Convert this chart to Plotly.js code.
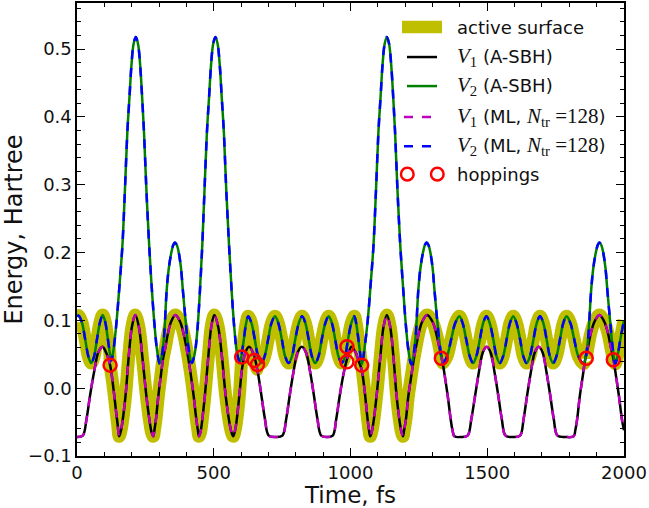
<!DOCTYPE html>
<html>
<head>
<meta charset="utf-8">
<script src="https://cdn.plot.ly/plotly-3.0.1.min.js"></script>
<style>html,body{margin:0;padding:0;background:#fff;}#chart{width:649px;height:508px;}</style>
</head>
<body>
<div id="chart"></div>
<script>
// ---- data ----
// lower adiabatic surface V1 : [time fs, energy Hartree]
var v1Points = [
[0,-0.072],[21,-0.070],[35,-0.045],[48,-0.010],[63,0.025],[78,0.053],[93,0.061],
[106,0.053],[121,0.034],[133,0.000],[143,-0.035],[149,-0.055],[154,-0.071],
[160,-0.064],[166,-0.050],[178,-0.009],[189,0.046],[201,0.091],[213,0.108],
[226,0.091],[239,0.046],[253,-0.009],[266,-0.050],[272,-0.064],[279,-0.071],
[283,-0.062],[289,-0.045],[297,-0.013],[307,0.020],[315,0.044],[324,0.062],[332,0.080],[344,0.098],[360,0.108],
[377,0.098],[390,0.080],[399,0.062],[407,0.044],[416,0.020],[427,-0.013],[436,-0.045],[442,-0.062],[446,-0.071],
[452,-0.064],[457,-0.050],[468,-0.009],[480,0.046],[491,0.091],[502,0.108],
[516,0.091],[530,0.046],[543,-0.009],[557,-0.050],[564,-0.064],[571,-0.071],
[577,-0.064],[583,-0.050],[594,-0.009],[604,0.030],[616,0.053],[629,0.061],
[644,0.052],[659,0.028],[674,-0.010],[687,-0.045],[701,-0.070],[726,-0.072],[751,-0.070],
[765,-0.045],[778,-0.010],[792,0.025],[807,0.053],[822,0.061],
[837,0.053],[852,0.025],[866,-0.010],[879,-0.045],[893,-0.070],[914,-0.072],[935,-0.070],
[948,-0.045],[961,-0.010],[975,0.022],[988,0.044],[1003,0.061],
[1016,0.055],[1030,0.040],[1041,0.027],[1052,-0.005],[1061,-0.040],[1067,-0.060],[1072,-0.071],
[1078,-0.064],[1084,-0.050],[1096,-0.009],[1109,0.046],[1121,0.091],[1133,0.108],
[1145,0.091],[1157,0.046],[1168,-0.009],[1180,-0.050],[1186,-0.064],[1192,-0.071],
[1196,-0.062],[1203,-0.045],[1211,-0.013],[1223,0.020],[1232,0.044],[1240,0.062],[1249,0.080],[1262,0.098],[1280,0.108],
[1300,0.098],[1314,0.080],[1324,0.062],[1334,0.044],[1344,0.020],[1356,-0.013],[1366,-0.045],[1373,-0.062],[1380,-0.071],
[1404,-0.072],[1428,-0.070],[1442,-0.045],[1456,-0.010],[1470,0.025],[1484,0.053],[1498,0.061],
[1512,0.053],[1526,0.025],[1540,-0.010],[1553,-0.045],[1567,-0.070],[1594,-0.072],[1620,-0.070],
[1633,-0.045],[1646,-0.010],[1660,0.025],[1674,0.053],[1688,0.061],
[1702,0.053],[1716,0.025],[1730,-0.010],[1743,-0.045],[1757,-0.070],[1787,-0.072],[1816,-0.071],
[1822,-0.062],[1829,-0.045],[1838,-0.013],[1850,0.020],[1859,0.044],[1869,0.062],[1878,0.080],[1892,0.098],[1910,0.108],
[1928,0.098],[1942,0.080],[1951,0.062],[1961,0.044],[1970,0.020],[1982,-0.013],[1992,-0.045],[2000,-0.062]
];
// upper adiabatic surface V2 : [time fs, energy Hartree]
var v2Points = [
[0,0.106],[6,0.107],[18,0.097],[30,0.072],[42,0.046],[52,0.037],[62,0.046],[73,0.072],[84,0.097],[94,0.108],
[103,0.098],[112,0.075],[120,0.052],[126,0.041],
[134,0.058],[145,0.100],[156,0.155],[166,0.210],[175,0.290],[184,0.377],[192,0.430],[199,0.476],[207,0.508],[215,0.518],
[223,0.508],[231,0.476],[238,0.430],[245,0.377],[254,0.290],[264,0.210],[273,0.150],[283,0.095],[293,0.055],[302,0.036],
[310,0.048],[318,0.075],[328,0.145],[336,0.178],[345,0.200],[352,0.211],[358,0.215],
[365,0.211],[372,0.200],[380,0.178],[387,0.145],[397,0.100],[407,0.062],[420,0.037],
[430,0.050],[440,0.085],[449,0.140],[458,0.210],[466,0.290],[475,0.377],[483,0.430],[490,0.476],[498,0.508],[506,0.518],
[514,0.508],[522,0.476],[529,0.430],[537,0.377],[546,0.290],[556,0.210],[566,0.140],[576,0.085],[586,0.050],[596,0.038],
[604,0.055],[611,0.075],[618,0.095],[626,0.106],[638,0.096],[650,0.072],[662,0.047],[674,0.037],
[686,0.047],[699,0.072],[711,0.096],[724,0.106],[736,0.096],[749,0.072],[761,0.047],[774,0.037],
[786,0.047],[798,0.072],[811,0.096],[823,0.106],[835,0.096],[847,0.072],[859,0.047],[871,0.037],
[883,0.047],[895,0.072],[908,0.096],[920,0.106],[932,0.096],[944,0.072],[956,0.047],[968,0.037],
[980,0.047],[991,0.072],[1003,0.096],[1014,0.106],[1021,0.095],[1028,0.075],[1035,0.052],[1042,0.035],
[1051,0.058],[1063,0.100],[1074,0.155],[1084,0.210],[1093,0.290],[1102,0.377],[1110,0.430],[1117,0.476],[1125,0.508],[1133,0.518],
[1141,0.508],[1149,0.476],[1156,0.430],[1163,0.377],[1172,0.290],[1182,0.210],[1192,0.150],[1202,0.095],[1212,0.055],[1222,0.035],
[1230,0.048],[1238,0.075],[1248,0.145],[1256,0.178],[1265,0.200],[1272,0.211],[1278,0.215],
[1285,0.211],[1292,0.200],[1300,0.178],[1307,0.145],[1317,0.100],[1327,0.062],[1338,0.037],
[1353,0.047],[1368,0.072],[1383,0.096],[1398,0.106],[1410,0.096],[1423,0.072],[1436,0.047],[1448,0.037],
[1460,0.047],[1473,0.072],[1485,0.096],[1497,0.106],[1509,0.096],[1522,0.072],[1534,0.047],[1546,0.037],
[1558,0.047],[1571,0.072],[1583,0.096],[1595,0.106],[1607,0.096],[1620,0.072],[1632,0.047],[1644,0.037],
[1656,0.047],[1669,0.072],[1681,0.096],[1693,0.106],[1705,0.096],[1717,0.072],[1729,0.047],[1741,0.037],
[1753,0.047],[1766,0.072],[1778,0.096],[1790,0.106],[1804,0.096],[1818,0.072],[1833,0.047],[1852,0.036],
[1861,0.048],[1869,0.075],[1880,0.145],[1888,0.178],[1897,0.200],[1904,0.211],[1910,0.215],
[1917,0.211],[1924,0.200],[1932,0.178],[1939,0.145],[1949,0.100],[1958,0.062],[1968,0.036],
[1976,0.047],[1988,0.075],[2000,0.100]
];
// surface hoppings
var hopTime   = [121, 602, 648, 660, 987, 987, 1041, 1332, 1862, 1961];
var hopEnergy = [0.034, 0.046, 0.041, 0.035, 0.039, 0.061, 0.034, 0.044, 0.044, 0.042];
// active surface between switching hops (1 = V1, 2 = V2)
var activeSurface = [2, 1, 2, 1, 2, 1, 2, 1, 2];
var switchHop     = [0, 1, 2, 3, 6, 7, 8, 9];   // indices into hop arrays
var tMin = 0, tMax = 2000;

// ---- build traces ----
function col(p, k){ return p.map(function(q){ return q[k]; }); }
var activeX = [], activeY = [];
for (var i = 0; i < activeSurface.length; i++) {
  var pts = activeSurface[i] === 1 ? v1Points : v2Points;
  var t0 = i === 0 ? -Infinity : hopTime[switchHop[i-1]];
  var t1 = i === activeSurface.length - 1 ? Infinity : hopTime[switchHop[i]];
  if (i > 0) { activeX.push(t0); activeY.push(hopEnergy[switchHop[i-1]]); }
  pts.forEach(function(p){ if (p[0] > t0 && p[0] < t1) { activeX.push(p[0]); activeY.push(p[1]); } });
  if (i < activeSurface.length - 1) { activeX.push(t1); activeY.push(hopEnergy[switchHop[i]]); }
}

var olive = '#bfbf00';
var traces = [
  {x: activeX, y: activeY, mode: 'lines', line: {color: olive, width: 13, shape: 'spline'}, name: 'active surface'},
  {x: col(v1Points,0), y: col(v1Points,1), mode: 'lines', line: {color: '#000000', width: 2.5, shape: 'spline'}, name: 'V1 (A-SBH)'},
  {x: col(v2Points,0), y: col(v2Points,1), mode: 'lines', line: {color: '#008000', width: 2.5, shape: 'spline'}, name: 'V2 (A-SBH)'},
  {x: col(v1Points,0), y: col(v1Points,1), mode: 'lines', line: {color: '#bf00bf', width: 2.5, dash: 'dash', shape: 'spline'}, name: 'V1 (ML)'},
  {x: col(v2Points,0), y: col(v2Points,1), mode: 'lines', line: {color: '#0000ff', width: 2.5, dash: 'dash', shape: 'spline'}, name: 'V2 (ML)'},
  {x: hopTime, y: hopEnergy, mode: 'markers', marker: {symbol: 'circle-open', size: 13, color: '#ff0000', line: {width: 2.5, color: '#ff0000'}}, name: 'hoppings'}
];

// ---- custom legend (matplotlib style, no frame) ----
var plotL = 77, plotT = 3, plotW = 547, plotH = 452.6;
function px(x){ return (x - plotL) / plotW; }
function py(y){ return 1 - (y - plotT) / plotH; }
var rowY = [27, 57, 86, 117, 146, 174];
var serif = "font-family:'Liberation Serif',serif;font-size:21px";
var labels = [
  'active surface',
  '<span style="' + serif + '"><i>V</i><sub>1</sub></span> (A-SBH)',
  '<span style="' + serif + '"><i>V</i><sub>2</sub></span> (A-SBH)',
  '<span style="' + serif + '"><i>V</i><sub>1</sub></span> (ML, <span style="' + serif + '"><i>N</i><sub>tr</sub> =128</span>)',
  '<span style="' + serif + '"><i>V</i><sub>2</sub></span> (ML, <span style="' + serif + '"><i>N</i><sub>tr</sub> =128</span>)',
  'hoppings'
];
var annotations = labels.map(function(t, k){
  return {xref: 'paper', yref: 'paper', x: px(455), y: py(rowY[k]), xanchor: 'left', yanchor: 'middle',
          text: t, showarrow: false, font: {family: 'DejaVu Sans', size: 18, color: '#111'}};
});
var shapes = [
  {type: 'rect', xref: 'paper', yref: 'paper', x0: px(402), x1: px(442), y0: py(rowY[0]-6.3), y1: py(rowY[0]+6.3), fillcolor: olive, line: {width: 0}},
  {type: 'line', xref: 'paper', yref: 'paper', x0: px(407), x1: px(437), y0: py(rowY[1]), y1: py(rowY[1]), line: {color: '#000', width: 2.5}},
  {type: 'line', xref: 'paper', yref: 'paper', x0: px(407), x1: px(437), y0: py(rowY[2]), y1: py(rowY[2]), line: {color: '#008000', width: 2.5}},
  {type: 'line', xref: 'paper', yref: 'paper', x0: px(404), x1: px(440), y0: py(rowY[3]), y1: py(rowY[3]), line: {color: '#bf00bf', width: 2.5, dash: 'dash'}},
  {type: 'line', xref: 'paper', yref: 'paper', x0: px(404), x1: px(440), y0: py(rowY[4]), y1: py(rowY[4]), line: {color: '#0000ff', width: 2.5, dash: 'dash'}},
  {type: 'circle', xref: 'paper', yref: 'paper', x0: px(407.3-6.3), x1: px(407.3+6.3), y0: py(rowY[5]-6.3), y1: py(rowY[5]+6.3), line: {color: '#ff0000', width: 2.5}},
  {type: 'circle', xref: 'paper', yref: 'paper', x0: px(437.3-6.3), x1: px(437.3+6.3), y0: py(rowY[5]-6.3), y1: py(rowY[5]+6.3), line: {color: '#ff0000', width: 2.5}}
];

var axisCommon = {
  ticks: 'inside', ticklen: 8, tickwidth: 1, tickcolor: '#000',
  showline: true, linecolor: '#000', linewidth: 1.6, mirror: 'allticks',
  showgrid: false, zeroline: false,
  tickfont: {family: 'DejaVu Sans', size: 18, color: '#111'}
};
var layout = {
  width: 649, height: 508,
  margin: {l: 77, r: 25, t: 3, b: 52},
  paper_bgcolor: '#fff', plot_bgcolor: '#fff',
  showlegend: false,
  xaxis: Object.assign({}, axisCommon, {
    range: [tMin, tMax], dtick: 500, tick0: 0,
    minor: {ticks: 'inside', dtick: 100, ticklen: 4, tickcolor: '#000', tickwidth: 1},
    title: {text: 'Time, fs', font: {family: 'DejaVu Sans', size: 23, color: '#111'}, standoff: 11}
  }),
  yaxis: Object.assign({}, axisCommon, {
    range: [-0.1, 0.568], dtick: 0.1, tick0: 0, tickformat: '.1f',
    minor: {ticks: 'inside', dtick: 0.02, ticklen: 4, tickcolor: '#000', tickwidth: 1},
    title: {text: 'Energy, Hartree', font: {family: 'DejaVu Sans', size: 24, color: '#111'}, standoff: 8}
  }),
  annotations: annotations,
  shapes: shapes
};
Plotly.newPlot('chart', traces, layout, {displayModeBar: false, staticPlot: true});
</script>
</body>
</html>
